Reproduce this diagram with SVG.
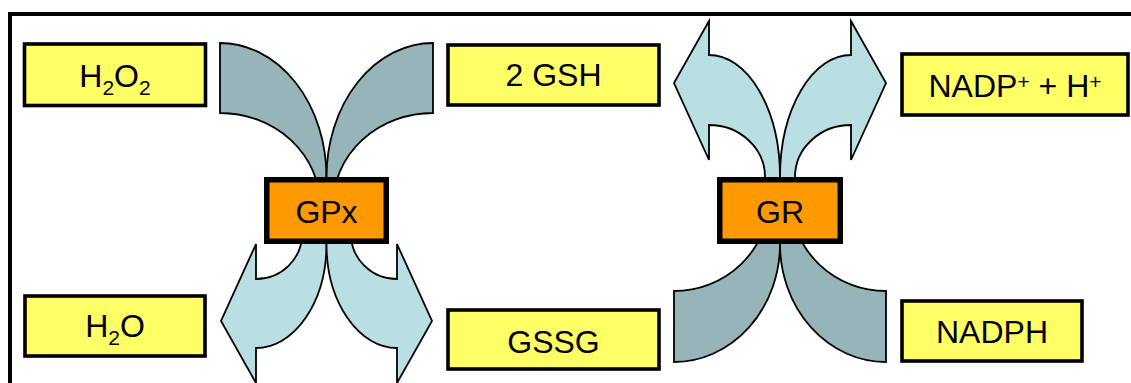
<svg xmlns="http://www.w3.org/2000/svg" width="1131" height="383" viewBox="0 0 1131 383">
  <style>
    .frame { fill: none; stroke: #000; stroke-width: 4; }
    .sub { fill: #FFFF66; stroke: #000; stroke-width: 3.6; }
    .enz { fill: #FF9900; stroke: #000; stroke-width: 5.5; }
    .t { font-family: "Liberation Sans", Arial, sans-serif; font-size: 32px; fill: #000; text-anchor: middle; }
    .in { fill: #97B4B8; stroke: #000; stroke-width: 1.8; stroke-linejoin: miter; }
    .out { fill: #B9DFE3; stroke: #000; stroke-width: 1.8; stroke-linejoin: miter; }
  </style>
  <rect x="0" y="0" width="1131" height="383" fill="#fff"/>
  <rect class="frame" x="10" y="14" width="1200" height="500"/>

  <g id="connectors">
    <!-- GPx: H2O2 and 2 GSH in -->
    <path class="in" d="M220,43 A106.5,134 0 0 1 326.5,177 L326.5,205 L320,205 A100,92 0 0 0 220,113 Z"/>
    <path class="in" d="M433,43 A106.5,134 0 0 0 326.5,177 L326.5,205 L333,205 A100,92 0 0 1 433,113 Z"/>
    <!-- GPx: H2O and GSSG out -->
    <path class="out" d="M326.5,230 L326.5,244 A70.5,104 0 0 1 256,348 L256,383 L221,321 L256,244 L256,279 A46,45 0 0 0 302,234 L302,230 Z"/>
    <path class="out" d="M326.5,230 L326.5,244 A70.5,104 0 0 0 397,348 L397,383 L432,321 L397,244 L397,279 A46,45 0 0 1 351,234 L351,230 Z"/>
    <!-- GR: 2 GSH and NADP+ out -->
    <path class="out" d="M780,190 L780,177 A71,122 0 0 0 709,55 L709,21 L674,83 L709,160 L709,125 A56,52 0 0 1 765,177 L765,190 Z"/>
    <path class="out" d="M780,190 L780,177 A71,122 0 0 1 851,55 L851,21 L886,83 L851,160 L851,125 A56,52 0 0 0 795,177 L795,190 Z"/>
    <!-- GR: GSSG and NADPH in -->
    <path class="in" d="M780,199 L780,244 A106,118 0 0 1 674,362 L674,291 A95,92 0 0 0 769,199 Z"/>
    <path class="in" d="M780,199 L780,244 A106,118 0 0 0 886,362 L886,291 A95,92 0 0 1 791,199 Z"/>
  </g>

  <g id="h2o2">
    <rect class="sub" x="24.5" y="44" width="181" height="61.5"/>
    <text class="t" x="115" y="87">H<tspan font-size="21" dy="8">2</tspan><tspan dy="-8">O</tspan><tspan font-size="21" dy="8">2</tspan></text>
  </g>
  <g id="h2o">
    <rect class="sub" x="25" y="296" width="180" height="60"/>
    <text class="t" x="115" y="337">H<tspan font-size="21" dy="8">2</tspan><tspan dy="-8">O</tspan></text>
  </g>
  <g id="gsh">
    <rect class="sub" x="448" y="45" width="211" height="60"/>
    <text class="t" x="553.5" y="86">2 GSH</text>
  </g>
  <g id="gssg">
    <rect class="sub" x="448" y="310" width="211" height="59"/>
    <text class="t" x="553.5" y="353">GSSG</text>
  </g>
  <g id="nadp">
    <rect class="sub" x="902" y="54" width="226" height="61"/>
    <text class="t" x="1015" y="97">NADP<tspan font-size="21" dy="-8">+</tspan><tspan dy="8"> + H</tspan><tspan font-size="21" dy="-8">+</tspan></text>
  </g>
  <g id="nadph">
    <rect class="sub" x="902" y="301" width="180" height="60"/>
    <text class="t" x="992" y="343">NADPH</text>
  </g>
  <g id="gpx">
    <rect class="enz" x="266.75" y="179.75" width="119.5" height="61.5"/>
    <text class="t" x="326.5" y="223">GPx</text>
  </g>
  <g id="gr">
    <rect class="enz" x="719.75" y="179.75" width="120.5" height="61.5"/>
    <text class="t" x="780" y="223">GR</text>
  </g>
</svg>
